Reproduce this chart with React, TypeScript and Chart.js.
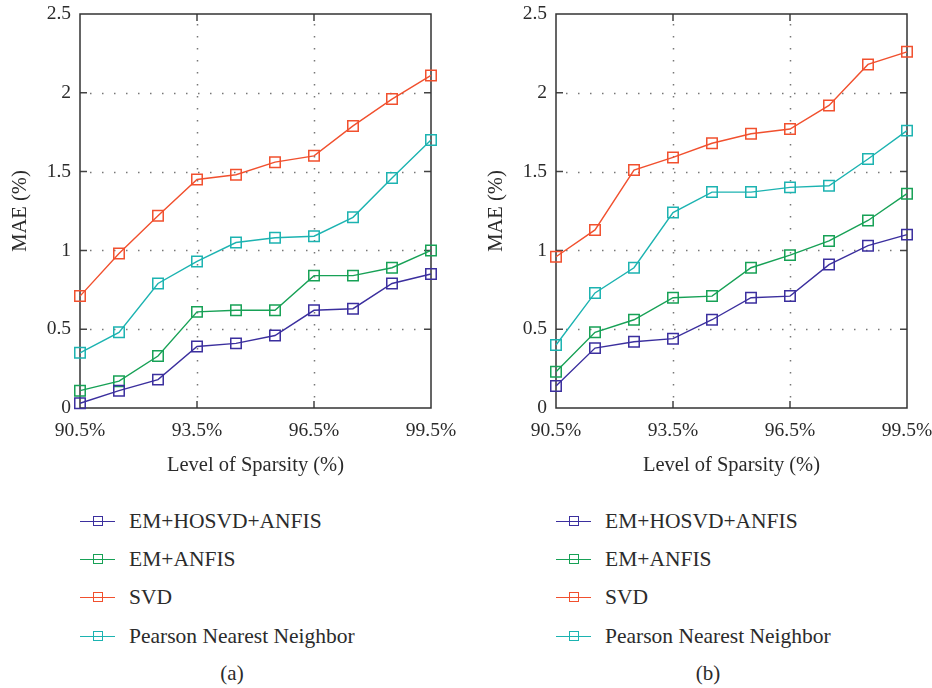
import React, { useEffect, useRef } from 'react';
import { Chart, registerables } from 'chart.js';

Chart.register(...registerables);

// ---- data ----
const sparsityLevels = [90.5, 91.5, 92.5, 93.5, 94.5, 95.5, 96.5, 97.5, 98.5, 99.5];
const xTickValues = [90.5, 93.5, 96.5, 99.5];
const yTickValues = [0, 0.5, 1, 1.5, 2, 2.5];
const seriesNames = ['EM+HOSVD+ANFIS', 'EM+ANFIS', 'SVD', 'Pearson Nearest Neighbor'];

const panelA_emHosvdAnfis = [0.03, 0.11, 0.18, 0.39, 0.41, 0.46, 0.62, 0.63, 0.79, 0.85];
const panelA_emAnfis = [0.11, 0.17, 0.33, 0.61, 0.62, 0.62, 0.84, 0.84, 0.89, 1.0];
const panelA_svd = [0.71, 0.98, 1.22, 1.45, 1.48, 1.56, 1.6, 1.79, 1.96, 2.11];
const panelA_pearson = [0.35, 0.48, 0.79, 0.93, 1.05, 1.08, 1.09, 1.21, 1.46, 1.7];

const panelB_emHosvdAnfis = [0.14, 0.38, 0.42, 0.44, 0.56, 0.7, 0.71, 0.91, 1.03, 1.1];
const panelB_emAnfis = [0.23, 0.48, 0.56, 0.7, 0.71, 0.89, 0.97, 1.06, 1.19, 1.36];
const panelB_svd = [0.96, 1.13, 1.51, 1.59, 1.68, 1.74, 1.77, 1.92, 2.18, 2.26];
const panelB_pearson = [0.4, 0.73, 0.89, 1.24, 1.37, 1.37, 1.4, 1.41, 1.58, 1.76];

// ---- styles ----
const seriesColors = ['#3b2f9e', '#17a156', '#f1502e', '#1cb3b1'];
const FONT = '"Liberation Serif"';
const TEXT = '#2b2b2b';
const FRAME = '#333333';
const GRID_DOT = '#777777';

const framePlugin = {
  id: 'frameGrid',
  beforeDatasetsDraw(chart: any) {
    const { ctx, chartArea, scales } = chart;
    const { left, right, top, bottom } = chartArea;
    const xs = scales.x;
    const ys = scales.y;
    ctx.save();
    // dotted grid
    ctx.strokeStyle = GRID_DOT;
    ctx.lineWidth = 1.5;
    ctx.setLineDash([1.5, 10.5]);
    yTickValues.forEach((v) => {
      if (v === ys.min || v === ys.max) return;
      const y = Math.round(ys.getPixelForValue(v)) + 0.5;
      ctx.beginPath();
      ctx.moveTo(left + 10, y);
      ctx.lineTo(right - 8, y);
      ctx.stroke();
    });
    xTickValues.forEach((v) => {
      if (v === xs.min || v === xs.max) return;
      const x = Math.round(xs.getPixelForValue(v)) + 0.5;
      ctx.beginPath();
      ctx.moveTo(x, top + 10);
      ctx.lineTo(x, bottom - 8);
      ctx.stroke();
    });
    ctx.setLineDash([]);
    // tick marks
    ctx.strokeStyle = '#444444';
    ctx.lineWidth = 1.5;
    const tl = 7;
    yTickValues.forEach((v) => {
      if (v === ys.min || v === ys.max) return;
      const y = ys.getPixelForValue(v);
      ctx.beginPath();
      ctx.moveTo(left, y);
      ctx.lineTo(left + tl, y);
      ctx.moveTo(right, y);
      ctx.lineTo(right - tl, y);
      ctx.stroke();
    });
    xTickValues.forEach((v) => {
      if (v === xs.min || v === xs.max) return;
      const x = xs.getPixelForValue(v);
      ctx.beginPath();
      ctx.moveTo(x, bottom);
      ctx.lineTo(x, bottom - tl);
      ctx.moveTo(x, top);
      ctx.lineTo(x, top + tl);
      ctx.stroke();
    });
    // frame
    ctx.strokeStyle = FRAME;
    ctx.lineWidth = 1.5;
    ctx.strokeRect(left, top, right - left, bottom - top);
    ctx.restore();
  },
};

function Panel({ series, caption, offsetX }: { series: number[][]; caption: string; offsetX: number }) {
  const ref = useRef<HTMLCanvasElement | null>(null);

  useEffect(() => {
    if (!ref.current) return;
    const datasets = series.map((vals, i) => ({
      label: seriesNames[i],
      data: sparsityLevels.map((x, j) => ({ x, y: vals[j] })),
      borderColor: seriesColors[i],
      backgroundColor: 'rgba(0,0,0,0)',
      borderWidth: 1.4,
      pointStyle: 'rect',
      pointRadius: 7.4,
      pointBorderWidth: 1.5,
      pointBorderColor: seriesColors[i],
      pointBackgroundColor: 'rgba(0,0,0,0)',
      tension: 0,
      clip: false,
    }));
    const chart = new Chart(ref.current, {
      type: 'line',
      data: { datasets } as any,
      plugins: [framePlugin],
      options: {
        animation: false,
        responsive: false,
        maintainAspectRatio: false,
        events: [],
        layout: { padding: { top: 14, right: 35, bottom: 0, left: 0 } },
        plugins: { legend: { display: false }, tooltip: { enabled: false } },
        scales: {
          x: {
            type: 'linear',
            min: 90.5,
            max: 99.5,
            afterBuildTicks: (s: any) => {
              s.ticks = xTickValues.map((v) => ({ value: v }));
            },
            afterFit: (s: any) => {
              s.height = 82;
              s.paddingLeft = 0;
              s.paddingRight = 0;
            },
            grid: { display: false, drawTicks: false },
            border: { display: false },
            ticks: {
              padding: 11,
              maxRotation: 0,
              autoSkip: false,
              color: TEXT,
              font: { family: FONT, size: 19.5 },
              callback: (v: any) => Number(v).toFixed(1) + '%',
            },
            title: {
              display: true,
              text: 'Level of Sparsity (%)',
              color: TEXT,
              font: { family: FONT, size: 20.5 },
              padding: { top: 0, bottom: 12 },
            },
          },
          y: {
            type: 'linear',
            min: 0,
            max: 2.5,
            afterBuildTicks: (s: any) => {
              s.ticks = yTickValues.map((v) => ({ value: v }));
            },
            afterFit: (s: any) => {
              s.width = 80;
              s.paddingTop = 0;
              s.paddingBottom = 0;
            },
            grid: { display: false, drawTicks: false },
            border: { display: false },
            ticks: {
              padding: 9,
              color: TEXT,
              font: { family: FONT, size: 19.5 },
              callback: (v: any) => String(v),
            },
            title: {
              display: true,
              text: 'MAE (%)',
              color: TEXT,
              font: { family: FONT, size: 20.5 },
              padding: { top: 8, bottom: 0 },
            },
          },
        },
      } as any,
    });
    return () => chart.destroy();
  }, [series]);

  const rowCenters = [521, 559, 597, 636];

  return (
    <div style={{ position: 'absolute', left: offsetX, top: 0, width: 466, height: 688 }}>
      <canvas ref={ref} width={466} height={490} style={{ position: 'absolute', left: 0, top: 0, width: 466, height: 490 }} />
      {seriesNames.map((name, i) => (
        <div
          key={name}
          style={{
            position: 'absolute',
            left: 80,
            top: rowCenters[i] - 14,
            height: 28,
            display: 'flex',
            alignItems: 'center',
            whiteSpace: 'nowrap',
          }}
        >
          <div style={{ position: 'relative', width: 35, height: 28, marginRight: 14 }}>
            <div
              style={{
                position: 'absolute',
                left: 0,
                top: 13.5,
                width: 35,
                height: 0,
                borderTop: `1.4px solid ${seriesColors[i]}`,
              }}
            />
            <div
              style={{
                position: 'absolute',
                left: 12.5,
                top: 9,
                width: 10,
                height: 10,
                boxSizing: 'border-box',
                border: `1.5px solid ${seriesColors[i]}`,
              }}
            />
          </div>
          <span style={{ fontFamily: FONT, fontSize: 21.5, color: TEXT, lineHeight: '28px' }}>{name}</span>
        </div>
      ))}
      <div
        style={{
          position: 'absolute',
          left: 182,
          width: 100,
          top: 659,
          textAlign: 'center',
          fontFamily: FONT,
          fontSize: 21,
          color: TEXT,
          lineHeight: '28px',
        }}
      >
        {caption}
      </div>
    </div>
  );
}

const panelASeries = [panelA_emHosvdAnfis, panelA_emAnfis, panelA_svd, panelA_pearson];
const panelBSeries = [panelB_emHosvdAnfis, panelB_emAnfis, panelB_svd, panelB_pearson];

export default function App() {
  return (
    <div
      style={{
        position: 'fixed',
        left: 0,
        top: 0,
        width: 932,
        height: 688,
        overflow: 'hidden',
        background: '#ffffff',
      }}
    >
      <Panel series={panelASeries} caption="(a)" offsetX={0} />
      <Panel series={panelBSeries} caption="(b)" offsetX={476} />
    </div>
  );
}
